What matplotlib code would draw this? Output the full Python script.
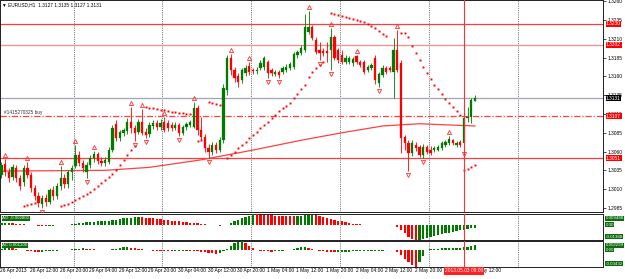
import matplotlib
matplotlib.use('Agg')
import matplotlib.pyplot as plt
from matplotlib import transforms
import numpy as np

plt.rcParams['font.family'] = ['Liberation Sans', 'DejaVu Sans']

# ---------------- data ----------------
opens = [1.3029,1.3043,1.3033,1.3026,1.3038,1.3025,1.3020,1.3038,1.3029,1.3012,
         1.3001,1.2990,1.2998,1.2993,1.3009,1.3001,1.3014,1.3025,1.3017,1.3033,
         1.3041,1.3055,1.3045,1.3033,1.3042,1.3051,1.3057,1.3047,1.3045,1.3046,
         1.3062,1.3097,1.3078,1.3085,1.3087,1.3099,1.3091,1.3086,1.3099,1.3086,
         1.3083,1.3094,1.3098,1.3093,1.3099,1.3098,1.3095,1.3091,1.3095,1.3085,
         1.3093,1.3095,1.3093,1.3118,1.3089,1.3079,1.3065,1.3059,1.3069,1.3062,
         1.3075,1.3142,1.3184,1.3168,1.3161,1.3155,1.3165,1.3174,1.3168,1.3167,
         1.3171,1.3172,1.3179,1.3168,1.3163,1.3166,1.3166,1.3168,1.3171,1.3172,
         1.3188,1.3191,1.3195,1.3219,1.3226,1.3208,1.3195,1.3194,1.3194,1.3195,
         1.3212,1.3195,1.3188,1.3179,1.3179,1.3178,1.3187,1.3179,1.3179,1.3168,
         1.3171,1.3184,1.3151,1.3162,1.3171,1.3171,1.3166,1.3195,1.3178,1.3079,
         1.3071,1.3058,1.3069,1.3066,1.3055,1.3066,1.3062,1.3062,1.3062,1.3065,
         1.3069,1.3071,1.3075,1.3069,1.3073,1.3071,1.3105,1.3106,1.3127]
highs = [1.3046,1.3050,1.3038,1.3043,1.3042,1.3029,1.3042,1.3046,1.3033,1.3016,
         1.3006,1.3002,1.3004,1.3012,1.3014,1.3018,1.3041,1.3030,1.3035,1.3042,
         1.3069,1.3061,1.3049,1.3046,1.3055,1.3061,1.3059,1.3053,1.3053,1.3066,
         1.3095,1.3102,1.3089,1.3091,1.3105,1.3119,1.3095,1.3103,1.3117,1.3091,
         1.3099,1.3102,1.3102,1.3103,1.3106,1.3102,1.3099,1.3099,1.3098,1.3095,
         1.3099,1.3102,1.3126,1.3122,1.3106,1.3083,1.3070,1.3073,1.3073,1.3079,
         1.3150,1.3188,1.3190,1.3172,1.3165,1.3171,1.3175,1.3179,1.3171,1.3172,
         1.3182,1.3187,1.3182,1.3171,1.3168,1.3168,1.3174,1.3176,1.3179,1.3192,
         1.3195,1.3202,1.3243,1.3247,1.3228,1.3212,1.3206,1.3198,1.3206,1.3224,
         1.3215,1.3198,1.3195,1.3188,1.3187,1.3186,1.3188,1.3182,1.3182,1.3175,
         1.3178,1.3188,1.3166,1.3175,1.3174,1.3174,1.3211,1.3222,1.3182,1.3082,
         1.3075,1.3075,1.3073,1.3069,1.3070,1.3069,1.3067,1.3067,1.3069,1.3074,
         1.3075,1.3081,1.3077,1.3074,1.3075,1.3109,1.3119,1.3131,1.3135]
lows = [1.3025,1.3028,1.3020,1.3022,1.3020,1.3009,1.3014,1.3025,1.3006,1.2996,
        1.2986,1.2985,1.2988,1.2990,1.2996,1.2997,1.3009,1.3012,1.3012,1.3022,
        1.3038,1.3041,1.3033,1.3025,1.3038,1.3046,1.3043,1.3041,1.3041,1.3043,
        1.3059,1.3074,1.3074,1.3081,1.3083,1.3085,1.3074,1.3083,1.3082,1.3078,
        1.3079,1.3090,1.3089,1.3089,1.3086,1.3087,1.3087,1.3089,1.3081,1.3082,
        1.3089,1.3093,1.3091,1.3082,1.3075,1.3059,1.3051,1.3055,1.3058,1.3059,
        1.3071,1.3135,1.3162,1.3153,1.3146,1.3151,1.3161,1.3162,1.3163,1.3163,
        1.3168,1.3168,1.3158,1.3161,1.3161,1.3158,1.3163,1.3166,1.3168,1.3170,
        1.3184,1.3188,1.3192,1.3216,1.3208,1.3190,1.3182,1.3187,1.3179,1.3168,
        1.3182,1.3178,1.3176,1.3176,1.3176,1.3174,1.3176,1.3172,1.3163,1.3166,
        1.3168,1.3150,1.3146,1.3159,1.3163,1.3166,1.3131,1.3166,1.3058,1.3062,
        1.3034,1.3054,1.3061,1.3053,1.3051,1.3057,1.3055,1.3059,1.3061,1.3062,
        1.3066,1.3069,1.3069,1.3066,1.3066,1.3062,1.3099,1.3098,1.3127]
closes = [1.3042,1.3033,1.3025,1.3039,1.3025,1.3014,1.3038,1.3029,1.3012,1.3001,
          1.2992,1.2998,1.2993,1.3009,1.3001,1.3014,1.3025,1.3017,1.3033,1.3038,
          1.3055,1.3045,1.3038,1.3042,1.3051,1.3057,1.3047,1.3045,1.3049,1.3062,
          1.3091,1.3078,1.3086,1.3089,1.3099,1.3091,1.3085,1.3099,1.3085,1.3082,
          1.3095,1.3098,1.3093,1.3098,1.3089,1.3091,1.3091,1.3095,1.3085,1.3093,
          1.3097,1.3099,1.3118,1.3089,1.3079,1.3065,1.3059,1.3069,1.3062,1.3075,
          1.3145,1.3184,1.3168,1.3158,1.3153,1.3168,1.3171,1.3166,1.3167,1.3168,
          1.3178,1.3184,1.3165,1.3165,1.3166,1.3162,1.3171,1.3172,1.3176,1.3190,
          1.3192,1.3198,1.3226,1.3226,1.3211,1.3192,1.3191,1.3191,1.3191,1.3212,
          1.3184,1.3182,1.3179,1.3184,1.3184,1.3183,1.3179,1.3175,1.3166,1.3172,
          1.3175,1.3155,1.3163,1.3171,1.3166,1.3168,1.3195,1.3168,1.3078,1.3071,
          1.3058,1.3071,1.3065,1.3055,1.3066,1.3059,1.3058,1.3065,1.3066,1.3071,
          1.3073,1.3077,1.3071,1.3071,1.3069,1.3105,1.3106,1.3129,1.3131]

# moving average (read at key bars)
ma_idx = [0, 28, 40, 54, 68, 81, 92, 103, 113, 128]
ma_val = [1.3034, 1.3035, 1.3039, 1.3049, 1.3062, 1.3075, 1.3085, 1.3094, 1.3097, 1.3094]

# parabolic SAR dots
sar_idx = [6,7,8,9,
           16,17,18,19,20,21,22,23,24,25,26,27,28,29,30,31,32,33,34,35,36,
           39,40,41,42,43,44,45,46,47,48,49,50,51,
           53,54,
           56,57,58,59,
           61,62,63,64,65,66,67,68,69,70,71,72,73,74,75,76,77,78,79,80,81,82,83,84,85,86,87,
           89,90,91,92,93,94,95,96,97,98,99,100,101,102,103,104,
           108,109,110,111,112,113,114,115,116,117,118,119,120,121,122,123,124,
           125,126,127,128]
sar_val = [1.2988,1.2989,1.2990,1.2992,
           1.2988,1.2989,1.2990,1.2993,1.2996,1.2998,1.3001,1.3004,1.3006,1.3010,1.3014,1.3018,1.3022,1.3026,1.3030,1.3035,1.3042,1.3049,1.3055,1.3062,1.3067,
           1.3119,1.3118,1.3118,1.3117,1.3115,1.3115,1.3114,1.3113,1.3113,1.3111,1.3111,1.3110,1.3110,
           1.3074,1.3075,
           1.3126,1.3125,1.3123,1.3122,
           1.3051,1.3055,1.3059,1.3065,1.3069,1.3073,1.3078,1.3082,1.3086,1.3091,1.3095,1.3099,1.3105,1.3109,1.3114,1.3118,1.3121,1.3125,1.3131,1.3137,1.3143,1.3149,1.3159,1.3166,1.3171,1.3175,1.3179,
           1.3244,1.3243,1.3242,1.3240,1.3239,1.3238,1.3236,1.3235,1.3234,1.3232,1.3230,1.3227,1.3224,1.3220,1.3216,1.3214,
           1.3218,1.3218,1.3212,1.3200,1.3191,1.3182,1.3172,1.3165,1.3157,1.3149,1.3143,1.3137,1.3130,1.3125,1.3119,1.3114,1.3109,
           1.3035,1.3037,1.3039,1.3042]

# fractals (bar indices)
fractal_up = [1, 7, 16, 20, 25, 35, 38, 44, 52, 62, 67, 83, 89, 96, 107, 121]
fractal_dn = [11, 23, 36, 39, 48, 56, 72, 75, 86, 89, 102, 110, 114, 125]

# Awesome Oscillator (pips) and Accelerator (pips)
ao = [10,12,13,11,9,6, 3,0,-3,-6,-9,-11,-12,-11,-10,-8, -5,-3,0,3,
      8,12,16,20,23,26,29,31,33,35,38, 45,50,55,60,63,65,66,
      64,62,59,56,52,48,44,40,36,32,28,24,20,16,13,10,7,
      3,-1,-5,-8,-10,-8,-2, 12,28,42,55,68,80,94.9,
      92,90,88,86,83,80,78,76,75,74,73, 75,78,83,88,90,
      86,80,72,63,54,45,36,28,20,13,7, 3,1,-1,-2,-3,-4,-5,-6,-5,-4,-6,
      -20,-50,-80,-110,-130,-138.8,
      -135,-128,-120,-112,-104,-96,-88,-80,-73,-66,-59,-52,-45,-39,-33,-28]
ac = [3,5,6,5,3,1, -1,-2,-3,-4,-4.2,-4,-3.5,-3,-2.5,-2,-1,-0.5,0.5,
      2,3,3.5,4,3.5,2.5, 2,1,0.3,-0.5,-0.2,1.5,3.5,5,
      6.5,7,6,4.5,3,2,0.7,
      -0.5,-1.2,-2,-2.5,-3,-3.2,-3.4,-3.2,-3,-2.7,-2.4,-2.6,-3,-3.3,-3.8,
      -5,-6.5,-8,-9,-7.5,-3.5,2.5, 11,17,21,23,19, 11,4,-1,-2.5,
      -3.2,-3.6,-3.8,-3.6,-3,-2,-0.8,1.2,3, 5,6.5,7.5,6,3.5,
      0.8,-1.2,-3,-4.5,-5.5,-6,-5.8,
      -5.3,-4.8,-4.2,-3.6,-3.1,-2.8,-2.5,-2.2,-2,-1.9,-1.7,-1.2,-0.5,1,0.5,-4,
      -12,-22,-31,-38,-43.2, -30,-14,1,
      2.5,3.2,3.8,4.3,4.8,5.2,5.6,6,6.4,6.8,8,10,12]

# time labels (the 3 May 04:00 one is hidden under the cursor box in the reference)
xtick_idx = [0, 8, 16, 24, 32, 40, 48, 56, 64, 72, 80, 88, 96, 104, 112, 128]
xtick_lbl = ['26 Apr 2013', '26 Apr 12:00', '26 Apr 20:00', '29 Apr 04:00', '29 Apr 12:00',
             '29 Apr 20:00', '30 Apr 04:00', '30 Apr 12:00', '30 Apr 20:00', '1 May 04:00',
             '1 May 12:00', '1 May 20:00', '2 May 04:00', '2 May 12:00', '2 May 20:00',
             '3 May 12:00']
day_sep = [20, 44, 68, 92, 116, 140]
cursor_idx = 125
cursor_lbl = '2013.05.03 09:00'

price_ticks = [1.2985, 1.3010, 1.3035, 1.3060, 1.3085, 1.3110, 1.3135,
               1.3160, 1.3185, 1.3210, 1.3235, 1.3260]
level_red = [1.3230, 1.3202, 1.3051]
level_bid = 1.3131
level_order = 1.3107
order_text = '#1415270325 buy'
header = '\u25bc EURUSD,H1  1.3127 1.3135 1.3127 1.3131'
ao_labels = ['0.009488', '0.00', '-0.01388']
ac_labels = ['0.002299', '0.00', '-0.00432']
ao_title = 'AO -0.002800'
ac_title = 'AC 0.001200'

# ---------------- figure ----------------
W, H = 625, 279
fig = plt.figure(figsize=(W / 100, H / 100), dpi=100)
fig.patch.set_facecolor('white')


def axpos(x0, y0, x1, y1):
    return [x0 / W, 1 - y1 / H, (x1 - x0) / W, (y1 - y0) / H]


ax = fig.add_axes(axpos(0, 0, 603, 212))
ax_ao = fig.add_axes(axpos(0, 214, 603, 240), sharex=ax)
ax_ac = fig.add_axes(axpos(0, 241, 603, 267), sharex=ax)

GREEN = '#007a00'
RED = '#ff0000'
FS = 3.5

n = len(closes)
for i in range(n):
    o, h, l, c = opens[i], highs[i], lows[i], closes[i]
    col = GREEN if c >= o else RED
    ax.vlines(i, l, h, color=col, lw=0.6, zorder=3)
    ax.bar(i, max(abs(c - o), 0.00004), bottom=min(o, c), width=0.62,
           color=col, edgecolor=col, lw=0.2, zorder=4)

ax.plot(ma_idx, ma_val, color='#ff4040', lw=0.9, zorder=2)
ax.plot(sar_idx, sar_val, ls='none', marker='s', ms=1.4, color=RED, mew=0, zorder=5)

up_tr = transforms.offset_copy(ax.transData, fig=fig, y=4, units='dots')
dn_tr = transforms.offset_copy(ax.transData, fig=fig, y=-4, units='dots')
ax.plot(fractal_up, [highs[i] for i in fractal_up], ls='none', marker='^', ms=3.0,
        mfc='none', mec='#ff3030', mew=0.6, transform=up_tr, zorder=5)
ax.plot(fractal_dn, [lows[i] for i in fractal_dn], ls='none', marker='v', ms=3.0,
        mfc='none', mec='#ff3030', mew=0.6, transform=dn_tr, zorder=5)

# horizontal levels
ax.axhline(level_red[0], color='#ff3b3b', lw=0.9, zorder=1)
ax.axhline(level_red[1], color='#ff8c8c', lw=0.9, zorder=1)
ax.axhline(level_red[2], color='#ff3b3b', lw=0.9, zorder=1)
ax.axhline(level_bid, color='#a0a6b8', lw=0.9, zorder=1)
ax.axhline(level_order, color='#ff4040', lw=0.9, ls=(0, (5, 1.5, 1, 1.5)), zorder=1)
ax.text(0.8, level_order + 0.0001, order_text, fontsize=3.4, color='#333333',
        va='bottom', ha='left', zorder=6)
ax.text(0.003, 0.988, header, transform=ax.transAxes, fontsize=3.4,
        va='top', ha='left', color='black')

for a in (ax, ax_ao, ax_ac):
    for d in day_sep:
        a.axvline(d - 0.5, color='#555555', lw=0.6, ls=(0, (1, 1.2)), zorder=0)
    a.axvline(cursor_idx, color='#ff3030', lw=0.8, zorder=6)
    a.set_xlim(-0.4, 162.6)
    for s in a.spines.values():
        s.set_linewidth(0.7)
        s.set_color('#202020')
    a.tick_params(axis='x', bottom=False, labelbottom=False)

ax.set_ylim(1.29796, 1.32616)
ax.yaxis.tick_right()
ax.set_yticks(price_ticks)
ax.set_yticklabels([f'{v:.4f}' for v in price_ticks])
ax.tick_params(axis='y', labelsize=FS, length=2, width=0.5, pad=1.2, colors='black')

rtr = transforms.blended_transform_factory(ax.transAxes, ax.transData)
box_kw = dict(transform=rtr, fontsize=FS, color='white', va='center', ha='left',
              clip_on=False, zorder=10)
for v in level_red + [level_order]:
    ax.text(1.005, v, f'{v:.4f}', bbox=dict(boxstyle='square,pad=0.1', fc='#ff0000', ec='none'),
            **box_kw)
ax.text(1.005, level_bid, f'{level_bid:.4f}',
        bbox=dict(boxstyle='square,pad=0.1', fc='#000000', ec='none'), **box_kw)


def osc(a, vals, lo, hi, labels, title):
    cols = []
    prev = None
    for v in vals:
        if prev is None or v > prev:
            cols.append(GREEN)
        elif v < prev:
            cols.append(RED)
        else:
            cols.append(cols[-1])
        prev = v
    a.bar(np.arange(len(vals)), vals, width=0.62, color=cols, lw=0, zorder=3)
    a.set_ylim(lo, hi)
    a.set_yticks([])
    for ypos, lab in zip([0.84, (0 - lo) / (hi - lo), 0.13], labels):
        a.text(1.004, ypos, lab, transform=a.transAxes, fontsize=3.2, color='white',
               va='center', ha='left', clip_on=False,
               bbox=dict(boxstyle='square,pad=0.1', fc='#0a6e0a', ec='none'))
    a.text(0.004, 0.84, title, transform=a.transAxes, fontsize=3.2, color='white',
           va='center', ha='left',
           bbox=dict(boxstyle='square,pad=0.1', fc='#0a6e0a', ec='none'))


osc(ax_ao, ao, -138.8, 94.9, ao_labels, ao_title)
osc(ax_ac, ac, -43.2, 23.0, ac_labels, ac_title)

btr = transforms.blended_transform_factory(ax_ac.transData, ax_ac.transAxes)
for i, s in zip(xtick_idx, xtick_lbl):
    ax_ac.text(i - 0.3, -0.15, s, transform=btr, fontsize=FS, va='center', ha='left',
               clip_on=False, color='black')
ax_ac.text(cursor_idx, -0.15, cursor_lbl, transform=btr, fontsize=FS, va='center',
           ha='center', color='white', clip_on=False, zorder=10,
           bbox=dict(boxstyle='square,pad=0.25', fc='#ff2020', ec='none'))

fig.savefig('out.png', dpi=100, facecolor='white')
